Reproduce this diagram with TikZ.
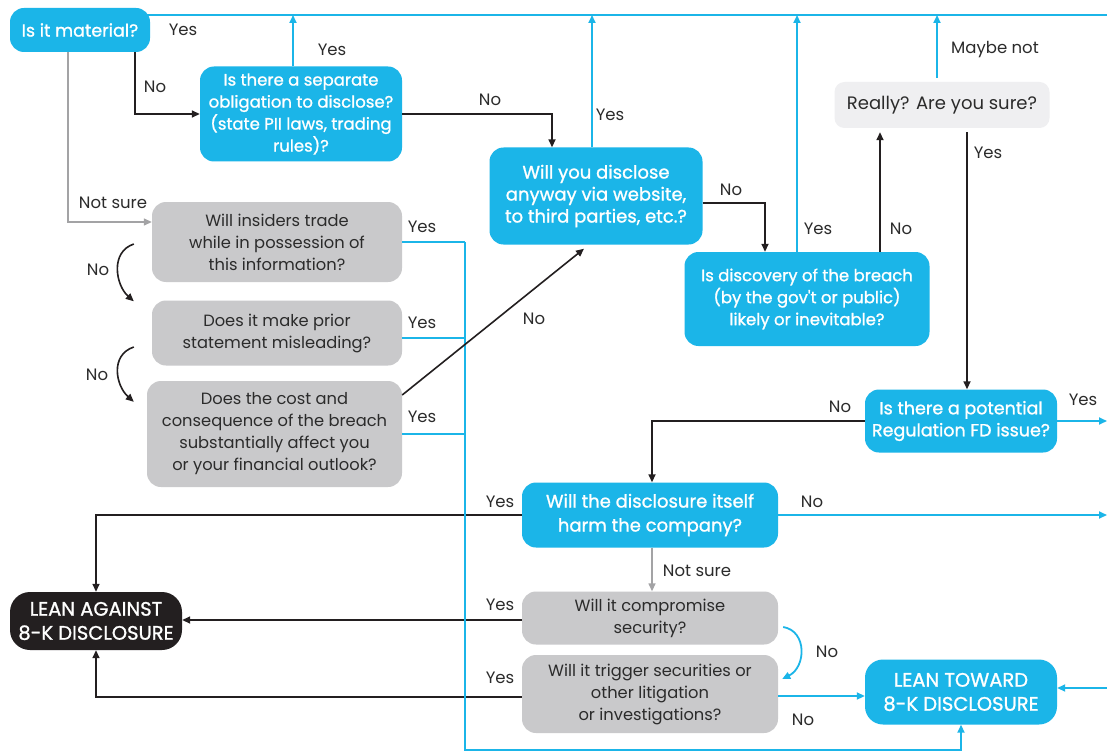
\documentclass[tikz,border=0pt]{standalone}
\usepackage{fontspec}
\setmainfont{Poppins}
\newfontfamily\bfam[FakeBold=1.1]{Poppins}
\usetikzlibrary{arrows.meta,calc}
\definecolor{cy}{HTML}{1BB5E8}
\definecolor{gr}{HTML}{C9C9CB}
\definecolor{lg}{HTML}{EFEFF1}
\definecolor{dk}{HTML}{231F20}
\definecolor{tx}{HTML}{2B2B2B}
\definecolor{gl}{HTML}{A3A3A5}
\begin{document}
\begin{tikzpicture}[x=1pt,y=-1pt,
  box/.style={rounded corners=14pt, align=center, inner sep=0pt, font=\fontsize{16.3}{22}\selectfont},
  cf/.style={font=\bfam\fontsize{#1}{22}\selectfont},
  cbox/.style={box, fill=cy, text=white, cf=16.5},
  gbox/.style={box, fill=gr, text=tx},
  lbl/.style={font=\fontsize{16.5}{18}\selectfont, text=tx, inner sep=0pt},
  tip/.style={-{Triangle[length=8pt,width=7pt]}},
  cl/.style={draw=cy, line width=1.8pt},
  bl/.style={draw=dk, line width=1.6pt},
  gline/.style={draw=gl, line width=1.4pt},
]
\fill[white] (0,0) rectangle (1107,754);
\useasboundingbox (0,0) rectangle (1107,754);
\coordinate (rE) at (1107,0);
\coordinate (topR) at (1107,15);
\coordinate (vx) at (465,0);
\coordinate (bot) at (0,750);

% nodes
\node[cbox, cf=17.5, minimum width=140pt, minimum height=44pt] (mat) at (80,30) {Is it material?};
\node[cbox, minimum width=202pt, minimum height=95pt] (sep) at (301,114) {Is there a separate\\obligation to disclose?\\(state PII laws, trading\\rules)?};
\node[cbox, cf=18, minimum width=213pt, minimum height=97pt] (will) at (596,196) {Will you disclose\\anyway via website,\\to third parties, etc.?};
\node[cbox, minimum width=245pt, minimum height=94pt] (disco) at (807,299) {Is discovery of the breach\\(by the gov't or public)\\likely or inevitable?};
\node[box, fill=lg, text=tx, rounded corners=10pt, font=\fontsize{18}{22}\selectfont, minimum width=215pt, minimum height=46pt] (really) at (942,105) {Really? Are you sure?};
\node[cbox, cf=17.5, minimum width=192pt, minimum height=63pt] (fd) at (961,421) {Is there a potential\\Regulation FD issue?};
\node[cbox, font=\bfam\fontsize{18}{24}\selectfont, minimum width=256pt, minimum height=65pt] (harm) at (650,515) {Will the disclosure itself\\harm the company?};
\node[gbox, minimum width=256pt, minimum height=53pt] (comp) at (650,618) {Will it compromise\\security?};
\node[gbox, minimum width=256pt, minimum height=78pt] (trig) at (650,694) {Will it trigger securities or\\other litigation\\or investigations?};
\node[box, fill=dk, text=white, rounded corners=20pt, font=\bfam\fontsize{19.5}{24}\selectfont, minimum width=172pt, minimum height=58pt] (against) at (96,621) {LEAN AGAINST\\8-K DISCLOSURE};
\node[cbox, rounded corners=18pt, font=\bfam\fontsize{19.5}{24}\selectfont, minimum width=192pt, minimum height=65pt] (toward) at (961,692) {LEAN TOWARD\\8-K DISCLOSURE};
\node[gbox, minimum width=250pt, minimum height=80pt] (ins) at (277,242) {Will insiders trade\\while in possession of\\this information?};
\node[gbox, minimum width=250pt, minimum height=65pt] (mis) at (277,333) {Does it make prior\\statement misleading?};
\node[gbox, minimum width=255pt, minimum height=106pt] (cost) at (274.5,434) {Does the cost and\\consequence of the breach\\substantially affect you\\or your financial outlook?};

% connectors
\draw[cl] ([xshift=-3pt,yshift=15pt]mat.east) -- (topR);
\draw[bl,tip] ([xshift=-15pt]mat.south east) |- (sep.west);
\draw[gline,tip] ([xshift=-12pt]mat.south) |- ([yshift=20pt]ins.west);
\draw[cl,tip] ([xshift=-8pt]sep.north) -- ([xshift=-8pt]sep.north |- topR);
\draw[bl,tip] (sep.east) -| ([xshift=-44pt]will.north);
\draw[cl,tip] ([xshift=-4pt]will.north) -- ([xshift=-4pt]will.north |- topR);
\draw[bl,tip] ([yshift=-7pt]will.east) -| ([xshift=-42pt]disco.north);
\draw[cl,tip] ([xshift=-10pt]disco.north) -- ([xshift=-10pt]disco.north |- topR);
\draw[bl,tip] ([xshift=73pt]disco.north) -- ([xshift=73pt,yshift=-4pt]disco.north |- really.south);
\draw[cl,tip] ([xshift=-5pt,yshift=4pt]really.north) -- ([xshift=-5pt]really.north |- topR);
\draw[bl,tip] ([xshift=25pt,yshift=-4pt]really.south) -- ([xshift=25pt]really.south |- fd.north);
\draw[cl,tip] (fd.east) -- (fd.east -| rE);
\draw[bl,tip] (fd.west) -| ([xshift=2pt]harm.north);
\draw[bl,tip] (harm.west) -| (against.north);
\draw[cl,tip] (harm.east) -- (harm.east -| rE);
\draw[gline,tip] ([xshift=2pt]harm.south) -- ([xshift=2pt]harm.south |- comp.north);
\draw[bl,tip] ([yshift=-2pt]comp.west) -- ([yshift=-2pt]comp.west -| against.east);
\draw[cl,tip] ([xshift=5pt,yshift=-9pt]comp.east) .. controls +(24,4) and +(24,-12) .. ([xshift=4pt,yshift=15pt]trig.east);
\draw[bl,tip] ([yshift=-3pt]trig.west) -| (against.south);
\draw[cl,tip] ([yshift=-2pt]trig.east) -- ([yshift=-2pt]trig.east -| toward.west);
\draw[cl,tip] ([yshift=4pt]toward.east -| rE) -- ([yshift=4pt]toward.east);
\draw[cl] (ins.east) -- (ins.east -| vx);
\draw[cl] ([yshift=-5pt]mis.east) -- ([yshift=-5pt]mis.east -| vx);
\draw[cl] (cost.east) -- (cost.east -| vx);
\draw[cl,tip] (ins.east -| vx) -- (vx |- bot) -| (toward.south);
\draw[bl,tip] ([xshift=-18pt,yshift=-2pt]ins.west) .. controls +(-24,8) and +(-18,-16) .. ([xshift=-18pt,yshift=-1pt]mis.north west);
\draw[bl,tip] ([xshift=-18pt,yshift=-14pt]mis.west) .. controls +(-24,8) and +(-18,-16) .. ([xshift=-13pt,yshift=-21pt]cost.north west);
\draw[bl,tip] ([yshift=39pt]cost.east) -- ([xshift=-12pt,yshift=-4pt]will.south);

% labels
\node[lbl] (l1) at (183,30) {Yes};
\node[lbl] (l2) at (155,87) {No};
\node[lbl] (l3) at (113,203) {Not sure};
\node[lbl] (l4) at (332,50) {Yes};
\node[lbl] (l5) at (490,100) {No};
\node[lbl] (l6) at (610,115) {Yes};
\node[lbl] (l7) at (731,190) {No};
\node[lbl] (l8) at (818,229) {Yes};
\node[lbl] (l9) at (901,229) {No};
\node[lbl] (l10) at (995,50) {Maybe not};
\node[lbl] (l11) at (988,153) {Yes};
\node[lbl] (l12) at (422,227) {Yes};
\node[lbl] (l13) at (422,323) {Yes};
\node[lbl] (l14) at (422,417) {Yes};
\node[lbl] (l15) at (98,270) {No};
\node[lbl] (l16) at (97,375) {No};
\node[lbl] (l17) at (534,319) {No};
\node[lbl] (l18) at (840,407) {No};
\node[lbl] (l19) at (1083,400) {Yes};
\node[lbl] (l20) at (500,502) {Yes};
\node[lbl] (l21) at (812,502) {No};
\node[lbl] (l22) at (697,571) {Not sure};
\node[lbl] (l23) at (500,605) {Yes};
\node[lbl] (l24) at (827,652) {No};
\node[lbl] (l25) at (500,678) {Yes};
\node[lbl] (l26) at (803,720) {No};
\end{tikzpicture}
\end{document}
